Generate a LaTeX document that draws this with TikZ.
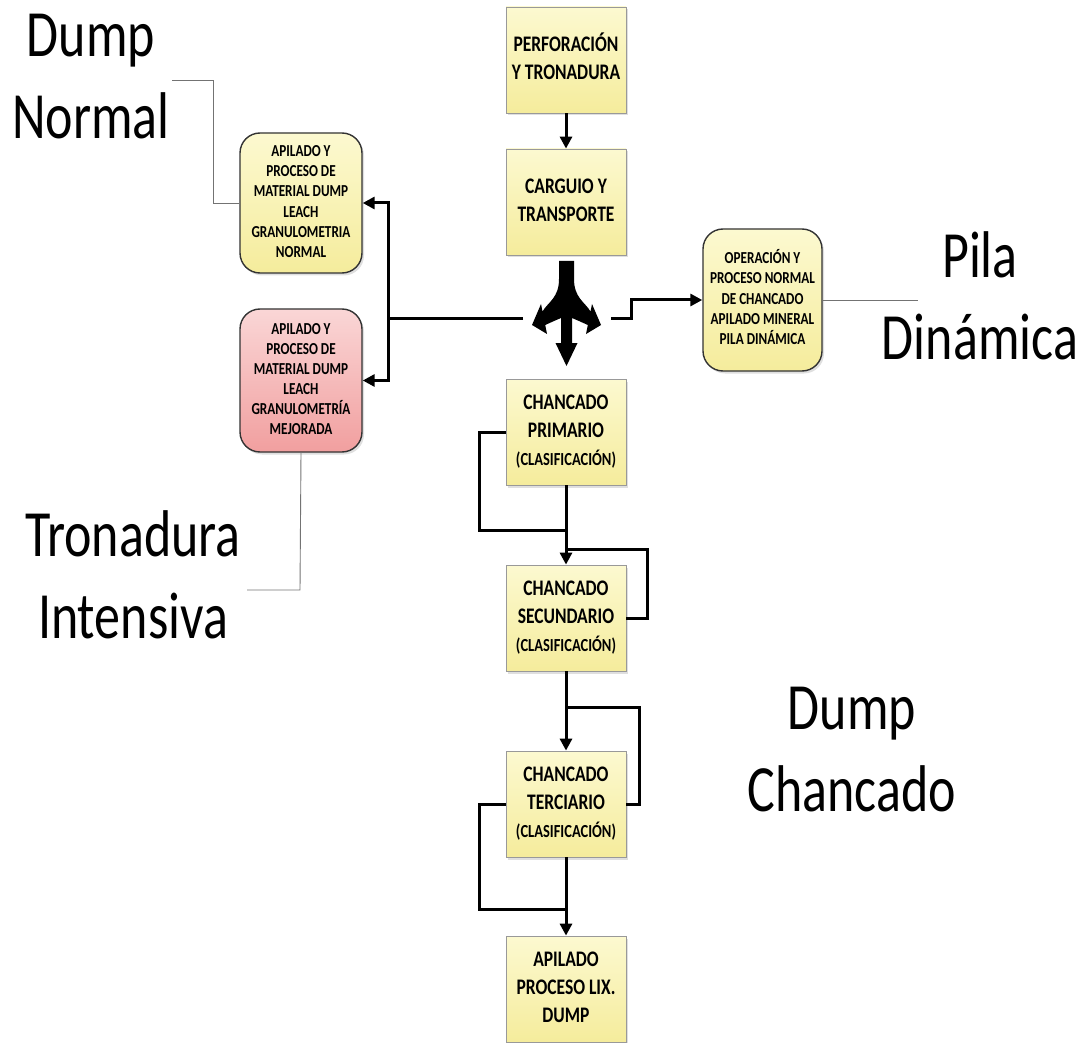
\documentclass[tikz,border=0pt]{standalone}
\usepackage{fontspec}
\setmainfont{Carlito}
\usepackage{graphicx}
\usetikzlibrary{arrows.meta,shadows}
\definecolor{yTop}{HTML}{FCF9D0}
\definecolor{yBot}{HTML}{F5EC9C}
\definecolor{rTop}{HTML}{FAD6D6}
\definecolor{rBot}{HTML}{F19F9F}
\newcommand{\stx}[3]{\scalebox{1}[1.27]{\fontsize{#1}{#2}\selectfont\begin{tabular}{@{}c@{}}#3\end{tabular}}}
\newcommand{\clasif}{\fontsize{14.5}{21.5}\selectfont(CLASIFICACIÓN)}
\begin{document}
\begin{tikzpicture}[x=1pt,y=-1pt,
  shad/.style={drop shadow={shadow xshift=2pt,shadow yshift=-2.5pt,opacity=0.25}},
  rbox/.style={shad,draw=black!40,line width=0.8pt,top color=yTop,bottom color=yBot,
    minimum width=120pt,minimum height=106pt,inner sep=0pt,font=\bfseries},
  rndbox/.style={shad,draw=black!80,line width=1.4pt,rounded corners=20pt,
    minimum width=122pt,minimum height=140pt,inner sep=0pt,font=\bfseries},
  yfill/.style={top color=yTop,bottom color=yBot},
  rfill/.style={top color=rTop,bottom color=rBot},
  conn/.style={line width=3pt,black},
  arr/.style={conn,-{Triangle[length=12pt,width=12pt]}},
  lbl/.style={draw=black!55,line width=0.9pt},
  big/.style={inner sep=0pt}]
\useasboundingbox (0,0) rectangle (1085,1043);

% central column
\node[rbox] (perf) at (566,60) {\stx{17.5}{22}{PERFORACIÓN\\Y TRONADURA}};
\node[rbox] (carg) at (566,202) {\stx{17.5}{22}{CARGUIO Y\\TRANSPORTE}};
\node[rbox] (cp) at (566,432) {\stx{17.5}{22}{CHANCADO\\PRIMARIO\\\clasif}};
\node[rbox] (cs) at (566,618) {\stx{17.5}{22}{CHANCADO\\SECUNDARIO\\\clasif}};
\node[rbox] (ct) at (566,804) {\stx{17.5}{22}{CHANCADO\\TERCIARIO\\\clasif}};
\node[rbox] (ap) at (566,989) {\stx{17.5}{22}{APILADO\\PROCESO LIX.\\DUMP}};

% rounded boxes
\node[rndbox,yfill] (apn) at (301,203) {\stx{13.2}{15.8}{APILADO Y\\PROCESO DE\\MATERIAL DUMP\\LEACH\\GRANULOMETRIA\\NORMAL}};
\node[rndbox,rfill,minimum height=143pt] (apm) at (301,380.5) {\stx{13.2}{15.8}{APILADO Y\\PROCESO DE\\MATERIAL DUMP\\LEACH\\GRANULOMETRÍA\\MEJORADA}};
\node[rndbox,yfill,minimum width=119pt,minimum height=142pt] (op) at (762.5,300) {\stx{13.2}{15.8}{OPERACIÓN Y\\PROCESO NORMAL\\DE CHANCADO\\APILADO MINERAL\\PILA DINÁMICA}};

% big labels
\node[big] (lDN) at (91,81) {\stx{52}{64.5}{Dump\\Normal}};
\node[big] (lPD) at (980,302) {\stx{52}{64.5}{Pila\\Dinámica}};
\node[big] (lTI) at (133,581) {\stx{52}{64.5}{Tronadura\\Intensiva}};
\node[big] (lDC) at (852,754) {\stx{52}{64.5}{Dump\\Chancado}};

% split block arrow
\fill[black] (559,261) -- (574,261) -- (574,279)
  .. controls (574,298) and (585,302) .. (590.5,311.5)
  -- (592,304) -- (601,325) -- (586,334) -- (587.8,325)
  .. controls (579,321) .. (572,318)
  -- (572,343) -- (577.5,343) -- (566.5,366) -- (555.5,343) -- (561,343) -- (561,318)
  .. controls (554,321) .. (545.2,325)
  -- (547,334) -- (532,325) -- (541,304) -- (542.5,311.5)
  .. controls (548,302) and (559,298) .. (559,279) -- cycle;
\coordinate (splitL) at (523,318);
\coordinate (splitR) at (611,318);
\coordinate (jL) at (388,318);

% connectors
\draw[arr] (perf.south) -- (carg.north);
\draw[conn] (splitL) -- (jL);
\draw[arr] (jL) |- (apn.east);
\draw[arr] (jL) |- (apm.east);
\draw[arr] (splitR) -- (631,318) |- (op.west);

\coordinate (j1) at (566,530);
\coordinate (j2) at (566,549);
\coordinate (j3) at (566,707);
\coordinate (j4) at (566,909);
\draw[arr] (cp.south) -- (cs.north);
\draw[conn] (cp.west) -- (479,432) |- (j1);
\draw[conn] (cs.east) -- (647,618) |- (j2);
\draw[arr] (cs.south) -- (ct.north);
\draw[conn] (ct.east) -- (639,804) |- (j3);
\draw[conn] (ct.west) -- (479,804) |- (j4);
\draw[arr] (ct.south) -- (ap.north);

% label leaders
\coordinate (eDN) at (172,80);
\coordinate (ePD) at (918,300);
\coordinate (eTI) at (247,590);
\draw[lbl] (apn.west) -- (213,203) -- (213,80) -- (eDN);
\draw[lbl] (op.east) -- (ePD);
\draw[lbl] (apm.south) -- (300,590) -- (eTI);
\end{tikzpicture}
\end{document}
